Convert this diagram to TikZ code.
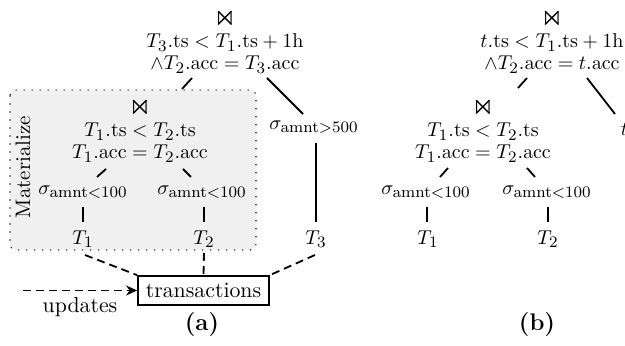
\documentclass[tikz,border=0pt]{standalone}
\usepackage{amssymb}
\usetikzlibrary{arrows.meta}
\DeclareMathSizes{10}{10}{8.5}{6.5}

\definecolor{matgray}{gray}{0.94}
\newcommand{\at}[1]{\mathrm{#1}}
\newcommand{\amnt}{\mathrm{amnt}}
\newcommand{\jn}{{\Large$\Join$}}

\tikzset{
  opnode/.style={inner sep=0pt, align=center, font=\fontsize{10}{11}\selectfont},
  edge/.style={line width=0.9pt},
  feed/.style={line width=0.9pt, dash pattern=on 4pt off 2.5pt},
  relbox/.style={draw, line width=0.9pt, inner sep=0pt, minimum width=65.5pt,
    minimum height=14.5pt, font=\fontsize{10.9}{13}\selectfont},
  matbox/.style={fill=matgray, draw=black!85, line width=0.8pt, line cap=round,
    dash pattern=on 0pt off 4pt, rounded corners=3pt},
  caption/.style={font=\large\bfseries}
}

\begin{document}
\begin{tikzpicture}[x=0.5pt,y=-0.5pt]
  \useasboundingbox (0,0) rectangle (625,346);
%
  % (a) materialized subtree
  \draw[matbox] (10,90) rectangle (256,250);
  \node[rotate=90, font=\fontsize{10.5}{12}\selectfont] (mat) at (23,167) {Materialize};
%
  \node[opnode] (topA) at (225,41) {\jn\\[0pt]
    $T_3.\at{ts} < T_1.\at{ts} + 1\at{h}$\\ $\wedge T_2.\at{acc} = T_3.\at{acc}$};
  \node[opnode] (joinA) at (140,130) {\jn\\[0pt]
    $T_1.\at{ts} < T_2.\at{ts}$\\ $T_1.\at{acc} = T_2.\at{acc}$};
  \node[opnode] (selA) at (83,192) {$\sigma_{\amnt<100}$};
  \node[opnode] (selB) at (202,192) {$\sigma_{\amnt<100}$};
  \node[opnode] (selC) at (314,127) {$\sigma_{\amnt>500}$};
  \node[opnode] (tA1) at (83,239) {$T_1$};
  \node[opnode] (tA2) at (204,239) {$T_2$};
  \node[opnode] (tA3) at (316,239) {$T_3$};
  \node[relbox] (trans) at (203.5,290.5) {transactions};
  \coordinate (upd) at (23,290.5);
  \node[font=\fontsize{10.9}{13}\selectfont] (updlbl) at (80,307) {updates};
  \node[caption] (capA) at (202,325) {(a)};
%
  \draw[edge] ([shift={(-33,37)}]topA.center) -- ([shift={(42,-41)}]joinA.center);
  \draw[edge] ([shift={(42,37)}]topA.center) -- ([shift={(-11,-13)}]selC.center);
  \draw[edge] ([shift={(-34,39)}]joinA.center) -- ([shift={(14,-15)}]selA.center);
  \draw[edge] ([shift={(43,39)}]joinA.center) -- ([shift={(-11,-15)}]selB.center);
  \draw[edge] ([shift={(0,15)}]selA.center) -- ([shift={(0,-17)}]tA1.center);
  \draw[edge] ([shift={(2,15)}]selB.center) -- ([shift={(0,-17)}]tA2.center);
  \draw[edge] ([shift={(2,16)}]selC.center) -- ([shift={(0,-17)}]tA3.center);
  % feeds from the base stream
  \draw[feed] ([shift={(2,16)}]tA1.center) -- (trans.north west);
  \draw[feed] ([shift={(0,14)}]tA2.center) -- (trans.north);
  \draw[feed] ([shift={(-1,16)}]tA3.center) -- (trans.north east);
  \draw[feed, -{Stealth[length=5.5pt, width=5pt]}] (upd) -- (trans.west);
%
  % (b) rewritten plan
  \node[opnode] (topB) at (552,41) {\jn\\[0pt]
    $t.\at{ts} < T_1.\at{ts} + 1\at{h}$\\ $\wedge T_2.\at{acc} = t.\at{acc}$};
  \node[opnode] (joinB) at (483,130) {\jn\\[0pt]
    $T_1.\at{ts} < T_2.\at{ts}$\\ $T_1.\at{acc} = T_2.\at{acc}$};
  \node[opnode] (selD) at (426,192) {$\sigma_{\amnt<100}$};
  \node[opnode] (selE) at (547,192) {$\sigma_{\amnt<100}$};
  \node[opnode] (tB1) at (428,239) {$T_1$};
  \node[opnode] (tB2) at (548,239) {$T_2$};
  \node[opnode, anchor=west] (tB3) at (620.5,129) {$t$};
  \node[caption] (capB) at (537,325) {(b)};
%
  \draw[edge] ([shift={(-25,37)}]topB.center) -- ([shift={(35,-42)}]joinB.center);
  \draw[edge] ([shift={(35,37)}]topB.center) -- ([shift={(-5.5,-15)}]tB3.west);
  \draw[edge] ([shift={(-35,38)}]joinB.center) -- ([shift={(14,-15)}]selD.center);
  \draw[edge] ([shift={(44,38)}]joinB.center) -- ([shift={(-12,-15)}]selE.center);
  \draw[edge] ([shift={(1,15)}]selD.center) -- ([shift={(-1,-17)}]tB1.center);
  \draw[edge] ([shift={(1,15)}]selE.center) -- ([shift={(0,-17)}]tB2.center);
\end{tikzpicture}
\end{document}
